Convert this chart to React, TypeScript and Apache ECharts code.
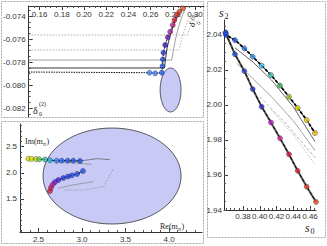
import React, { useEffect, useRef } from "react";
import * as echarts from "echarts";

// ---------- Panel A (top-left): delta_0^(0) vs delta_0^(2) ----------
const aXTicks = [0.16, 0.18, 0.2, 0.22, 0.24, 0.26, 0.28, 0.3];
const aYTicks = [-0.082, -0.08, -0.078, -0.076, -0.074];
const aPoints = [
  [0.259, -0.07893], [0.2641, -0.07898], [0.2701, -0.07893], [0.2707, -0.07835],
  [0.271, -0.07777], [0.2716, -0.07719], [0.2731, -0.07652], [0.2755, -0.07585],
  [0.2776, -0.07537], [0.28, -0.07478], [0.2815, -0.07435], [0.2836, -0.07391],
  [0.2859, -0.07363], [0.289, -0.07333],
];
const aColors = [
  "#3a8cf0", "#3a7ff0", "#1f5fe8", "#1f50e0", "#1f45d8", "#1f35c8", "#2a20b8",
  "#6a18b0", "#b020b0", "#d02070", "#d82038", "#e03020", "#e84818", "#f06018",
];
const aDottedStart = [[0.15, -0.07887]];
const aBlackSolid = [
  [0.15, -0.07852], [0.2725, -0.07852], [0.2735, -0.0777], [0.2748, -0.0768],
  [0.277, -0.0759], [0.2795, -0.07515], [0.2825, -0.07435], [0.286, -0.0737], [0.2895, -0.0732],
];
const aGraySolid = [
  [0.15, -0.07783], [0.279, -0.07783], [0.2805, -0.077], [0.2825, -0.076],
  [0.285, -0.075], [0.288, -0.0741], [0.292, -0.0732],
];
const aGrayDotted1 = [[0.15, -0.07696], [0.2855, -0.07696], [0.2875, -0.0762], [0.2905, -0.0752], [0.2945, -0.0742]];
const aGrayDotted2 = [[0.15, -0.07565], [0.2935, -0.07565], [0.2955, -0.075], [0.2985, -0.0743]];
const aEllipse = [0.278, -0.08043, 0.0094, 0.00191];

// ---------- Panel B (bottom-left): complex m_pi plane ----------
const bXTicks = [2.5, 3.0, 3.5, 4.0];
const bYTicks = [1.5, 2.0, 2.5];
const bUpper = [
  [2.383, 2.268], [2.422, 2.264], [2.471, 2.262], [2.509, 2.256], [2.575, 2.252],
  [2.632, 2.237], [2.709, 2.23], [2.767, 2.23], [2.836, 2.23], [2.9, 2.23], [2.977, 2.224],
];
const bUpperColors = [
  "#f0e000", "#e8e800", "#c8e818", "#60d040", "#30c8a0", "#28b8e0",
  "#2a8cf0", "#2a70f0", "#2060e8", "#2058e8", "#2050e8",
];
const bLower = [
  [2.632, 1.652], [2.644, 1.719], [2.663, 1.776], [2.69, 1.824], [2.728, 1.862],
  [2.785, 1.9], [2.839, 1.929], [2.885, 1.951], [2.943, 1.976], [3.011, 2.033],
];
const bLowerColors = [
  "#e02030", "#d82060", "#c020b0", "#8020c8", "#4828d8",
  "#2840e0", "#2048e8", "#2050e8", "#2050f0", "#2058f0",
];
const bGray1 = [[2.977, 2.224], [3.17, 2.268], [3.32, 2.25]];
const bGray2 = [[2.7, 2.2], [2.9, 2.19], [3.11, 2.16]];
const bGray3 = [[2.724, 1.705], [2.9, 1.77], [3.131, 1.83]];
const bGray4 = [[2.802, 1.671], [3.015, 1.671], [3.248, 1.734], [3.364, 2.085]];
const bEllipse = [3.345, 1.938, 0.793, 0.914];

// ---------- Panel C (right): s0 vs s2 ----------
const cXTicks = [0.38, 0.4, 0.42, 0.44, 0.46];
const cYTicks = [1.94, 1.96, 1.98, 2.0, 2.02, 2.04];
const cUpper = [
  [0.3593, 2.0415], [0.3597, 2.04], [0.3704, 2.0371], [0.3816, 2.0324], [0.3916, 2.0276],
  [0.4023, 2.0225], [0.4134, 2.0171], [0.4242, 2.0111], [0.4349, 2.0047], [0.4453, 1.9983],
  [0.4561, 1.9914], [0.466, 1.984],
];
const cUpperColors = [
  "#1f4fe0", "#1f55e0", "#2060e8", "#2a80f0", "#30a0f0", "#30c0e8",
  "#30d0b0", "#40c850", "#a0d820", "#e0e000", "#f0d800", "#f0c000",
];
const cLower = [
  [0.3593, 2.041], [0.3704, 2.029], [0.3816, 2.0194], [0.3916, 2.0091], [0.4023, 1.999],
  [0.4134, 1.99], [0.4242, 1.981], [0.4349, 1.9718], [0.4453, 1.9624], [0.4561, 1.9533], [0.4672, 1.9446],
];
const cLowerColors = [
  "#1f4fe0", "#1f50e0", "#2048d8", "#2040d0", "#3030c8", "#c020c0",
  "#d82890", "#e02040", "#e02828", "#e84018", "#f05018",
];
const cGray1 = [[0.3704, 2.0327], [0.392, 2.0245], [0.414, 2.0143], [0.44, 1.999], [0.466, 1.979]];
const cGray2 = [[0.3725, 2.0238], [0.392, 2.015], [0.414, 2.0047], [0.44, 1.991], [0.466, 1.974]];
const cGray3 = [[0.4, 2.0047], [0.43, 1.99], [0.466, 1.97]];
const cGray4 = [[0.414, 1.997], [0.44, 1.983], [0.466, 1.966]];

function range(a: number, b: number, step: number) {
  const out: number[] = [];
  const n = Math.round((b - a) / step);
  for (let i = 0; i <= n; i++) out.push(+(a + i * step).toFixed(6));
  return out;
}

const TICK_FONT = "Liberation Sans";
const SERIF = "Liberation Serif";

function axes(
  gridIndex: number, min: number, max: number, majors: number[], minors: number[],
  digits: number, position: string, extra: any = {}
) {
  const main = {
    type: "value", gridIndex, min, max, position,
    axisLine: { show: true, onZero: false, lineStyle: { color: "#333", width: 1 } },
    axisTick: { show: true, inside: true, length: 4, customValues: majors, lineStyle: { color: "#333" } },
    axisLabel: {
      show: true, customValues: majors, formatter: (v: number) => v.toFixed(digits),
      fontSize: 8, color: "#333", fontFamily: TICK_FONT, margin: 3, hideOverlap: false,
      ...(extra.label || {}),
    },
    splitLine: { show: false },
  };
  const minor = {
    type: "value", gridIndex, min, max, position,
    axisLine: { show: false, onZero: false },
    axisTick: { show: true, inside: true, length: 2, customValues: minors, lineStyle: { color: "#555" } },
    axisLabel: { show: false },
    splitLine: { show: false },
  };
  return [main, minor];
}

function line(data: number[][], xi: number, color: string, width: number, type: any = "solid", z = 2) {
  return {
    type: "line", xAxisIndex: xi, yAxisIndex: xi, data, showSymbol: false, symbol: "none",
    lineStyle: { color, width, type }, z, silent: true,
  };
}

function dots(data: number[][], colors: string[], xi: number) {
  return {
    type: "scatter", xAxisIndex: xi, yAxisIndex: xi, symbolSize: 5, z: 5, silent: true,
    data: data.map((p, i) => ({ value: p, itemStyle: { color: colors[i], borderColor: "#1a1a40", borderWidth: 0.5 } })),
  };
}

function ellipse(e: number[], xi: number) {
  return {
    type: "custom", xAxisIndex: xi, yAxisIndex: xi, data: [e], z: 1, silent: true, clip: false,
    renderItem: (_p: any, api: any) => {
      const cx = api.value(0), cy = api.value(1), rx = api.value(2), ry = api.value(3);
      const pts: number[][] = [];
      for (let i = 0; i < 90; i++) {
        const t = (i / 90) * Math.PI * 2;
        pts.push(api.coord([cx + rx * Math.cos(t), cy + ry * Math.sin(t)]));
      }
      return { type: "polygon", shape: { points: pts }, style: { fill: "#c9c9f6", stroke: "#333", lineWidth: 0.8 } };
    },
  };
}

function txt(text: string, x: number, y: number, size: number, extra: any = {}) {
  return {
    type: "text", x, y, silent: true,
    style: { text, fontSize: size, fontFamily: SERIF, fill: "#222", align: "left", verticalAlign: "middle", ...extra },
  };
}

export default function App() {
  const ref = useRef<HTMLDivElement>(null);
  useEffect(() => {
    if (!ref.current) return;
    const chart = echarts.init(ref.current, undefined, { renderer: "svg" });
    const [ax, axm] = axes(0, 0.15013, 0.30811, aXTicks, range(0.15, 0.305, 0.005), 2, "top", { label: { inside: true, margin: 4 } });
    const [ay, aym] = axes(0, -0.08278, -0.07313, aYTicks, range(-0.0825, -0.0735, 0.0005), 3, "left");
    const [bx, bxm] = axes(1, 2.2874, 4.379, bXTicks, range(2.3, 4.3, 0.1), 1, "bottom");
    const [by, bym] = axes(1, 0.8714, 2.9286, bYTicks, range(0.9, 2.9, 0.1), 1, "left");
    const [cx, cxm] = axes(2, 0.35731, 0.46716, cXTicks, range(0.36, 0.465, 0.005), 2, "bottom", { label: { margin: 2 } });
    const [cy, cym] = axes(2, 1.94, 2.04857, cYTicks, range(1.94, 2.045, 0.005), 2, "left", { label: { margin: 2 } });

    chart.setOption({
      animation: false,
      grid: [
        { left: 28, top: 6, width: 176, height: 111 },
        { left: 20, top: 124, width: 182, height: 108 },
        { left: 224, top: 20, width: 92, height: 190 },
      ],
      xAxis: [ax, bx, cx, axm, bxm, cxm],
      yAxis: [ay, by, cy, aym, bym, cym],
      series: [
        // panel A
        ellipse(aEllipse, 0),
        line(aGrayDotted2, 0, "#999", 0.8, [1.5, 1.5]),
        line(aGrayDotted1, 0, "#999", 0.8, [1.5, 1.5]),
        line(aGraySolid, 0, "#888", 0.8),
        line(aBlackSolid, 0, "#222", 0.9),
        line(aDottedStart.concat(aPoints), 0, "#111", 1, [1.5, 1]),
        dots(aPoints, aColors, 0),
        // panel B
        ellipse(bEllipse, 1),
        line(bGray1, 1, "#666", 0.8),
        line(bGray2, 1, "#888", 0.7),
        line(bGray3, 1, "#888", 0.7),
        line(bGray4, 1, "#888", 0.7, [1.5, 1.5]),
        line(bUpper, 1, "#111", 1.2, [2, 1]),
        line(bLower, 1, "#111", 1.2, [2, 1]),
        dots(bUpper, bUpperColors, 1),
        dots(bLower, bLowerColors, 1),
        // panel C
        line(cGray1, 2, "#555", 0.9),
        line(cGray2, 2, "#999", 0.9),
        line(cGray3, 2, "#999", 0.8, [3, 2]),
        line(cGray4, 2, "#aaa", 0.8, [1.5, 1.5]),
        line(cUpper, 2, "#222", 1),
        line(cUpper, 2, "#000", 1.8, [3, 2]),
        line(cLower, 2, "#555", 2),
        line(cLower, 2, "#000", 1, [3, 2]),
        dots(cUpper, cUpperColors, 2),
        dots(cLower, cLowerColors, 2),
      ],
      graphic: [
        { type: "rect", silent: true, shape: { x: 1.5, y: 1.5, width: 202, height: 116 }, style: { fill: "none", stroke: "#aaa", lineWidth: 1, lineDash: [2, 1] } },
        { type: "rect", silent: true, shape: { x: 1.5, y: 121.5, width: 202, height: 122 }, style: { fill: "none", stroke: "#aaa", lineWidth: 1, lineDash: [2, 1] } },
        { type: "rect", silent: true, shape: { x: 207.5, y: 1.5, width: 118, height: 236 }, style: { fill: "none", stroke: "#aaa", lineWidth: 1, lineDash: [2, 1] } },
        txt("δ", 33, 110, 10),
        txt("(2)", 39, 104, 6),
        txt("0", 39, 114, 6),
        {
          type: "group", x: 191, y: 26, rotation: 0.9, silent: true,
          children: [txt("δ", 0, 0, 9), txt("(0)", 5.5, -4, 6), txt("0", 5.5, 4, 6)],
        },
        txt("Im(m", 25, 141, 8),
        txt("π", 43, 143.5, 6),
        txt(")", 46.5, 141, 8),
        txt("Re(m", 160, 226, 8),
        txt("π", 178, 228.5, 6),
        txt(")", 181.5, 226, 8),
        txt("s", 219, 13, 12, { fontStyle: "italic" }),
        txt("2", 224.5, 16, 8),
        txt("s", 305, 228, 12, { fontStyle: "italic" }),
        txt("0", 310.5, 231, 8),
      ],
    });
    return () => chart.dispose();
  }, []);
  return <div ref={ref} style={{ position: "fixed", left: 0, top: 0, width: 327, height: 246, background: "#fff" }} />;
}
